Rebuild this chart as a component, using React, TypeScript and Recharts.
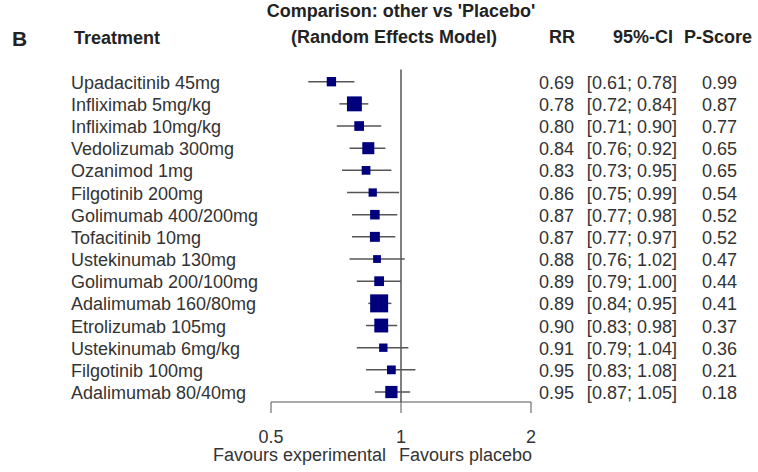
import { ScatterChart, Scatter, XAxis, YAxis, ReferenceLine, ErrorBar } from "recharts";

const treatments = [
  "Upadacitinib 45mg",
  "Infliximab 5mg/kg",
  "Infliximab 10mg/kg",
  "Vedolizumab 300mg",
  "Ozanimod 1mg",
  "Filgotinib 200mg",
  "Golimumab 400/200mg",
  "Tofacitinib 10mg",
  "Ustekinumab 130mg",
  "Golimumab 200/100mg",
  "Adalimumab 160/80mg",
  "Etrolizumab 105mg",
  "Ustekinumab 6mg/kg",
  "Filgotinib 100mg",
  "Adalimumab 80/40mg",
];
const rr = [0.69, 0.78, 0.8, 0.84, 0.83, 0.86, 0.87, 0.87, 0.88, 0.89, 0.89, 0.9, 0.91, 0.95, 0.95];
const ciLower = [0.61, 0.72, 0.71, 0.76, 0.73, 0.75, 0.77, 0.77, 0.76, 0.79, 0.84, 0.83, 0.79, 0.83, 0.87];
const ciUpper = [0.78, 0.84, 0.9, 0.92, 0.95, 0.99, 0.98, 0.97, 1.02, 1.0, 0.95, 0.98, 1.04, 1.08, 1.05];
const pScore = [0.99, 0.87, 0.77, 0.65, 0.65, 0.54, 0.52, 0.52, 0.47, 0.44, 0.41, 0.37, 0.36, 0.21, 0.18];
const xTicks = [0.5, 1, 2];

const FONT = "'Liberation Sans', Arial, Helvetica, sans-serif";
const TEXT = "#333";

const rows = treatments.map((name, i) => ({
  idx: i,
  name,
  rr: rr[i],
  lo: ciLower[i],
  hi: ciUpper[i],
  err: [rr[i] - ciLower[i], ciUpper[i] - rr[i]],
}));

// square side shrinks with the width of the CI (inverse standard error)
function Square(props: any) {
  const { cx, cy } = props;
  const d = props.payload ?? props;
  const side = Math.min(18, 2.3 / Math.log(d.hi / d.lo));
  return <rect x={cx - side / 2} y={cy - side / 2} width={side} height={side} fill="#00007d" />;
}

function RowTick(props: any) {
  const { y, payload } = props;
  const i = payload.value;
  const fmt = (v: number) => v.toFixed(2);
  return (
    <g fontFamily={FONT} fontSize={18} fill={TEXT}>
      <text x={71} y={y + 7}>{treatments[i]}</text>
      <text x={574} y={y + 7} textAnchor="end">{fmt(rr[i])}</text>
      <text x={677} y={y + 7} textAnchor="end">
        [{fmt(ciLower[i])}; {fmt(ciUpper[i])}]
      </text>
      <text x={737} y={y + 7} textAnchor="end">{fmt(pScore[i])}</text>
    </g>
  );
}

export default function App() {
  return (
    <div>
      <style>{"body{margin:0}"}</style>
      <ScatterChart
        width={758}
        height={472}
        margin={{ top: 69.5, right: 227, bottom: 20, left: 71 }}
        style={{ background: "#fff" }}
      >
        <XAxis
          dataKey="rr"
          type="number"
          scale="log"
          domain={[0.5, 2]}
          ticks={xTicks}
          allowDataOverflow
          height={50}
          tickSize={11}
          tickMargin={17}
          tickFormatter={(v: number) => String(v)}
          stroke="#555"
          tick={{ fontSize: 18, fill: TEXT, fontFamily: FONT }}
        />
        <YAxis
          dataKey="idx"
          type="number"
          domain={[-0.55, 14.45]}
          reversed
          ticks={treatments.map((_, i) => i)}
          interval={0}
          width={200}
          axisLine={false}
          tickLine={false}
          tick={<RowTick />}
        />
        <ReferenceLine x={1} stroke="#555" strokeWidth={1.5} />
        <Scatter data={rows} shape={<Square />} isAnimationActive={false}>
          <ErrorBar dataKey="err" direction="x" width={0} stroke="#555" strokeWidth={1.5} />
        </Scatter>
        <g fontFamily={FONT} fill="#222" fontWeight="bold" fontSize={18}>
          <text x={12} y={46} fontSize={21}>B</text>
          <text x={74} y={44}>Treatment</text>
          <text x={401} y={17} textAnchor="middle">Comparison: other vs 'Placebo'</text>
          <text x={394} y={43} textAnchor="middle">(Random Effects Model)</text>
          <text x={575} y={43} textAnchor="end">RR</text>
          <text x={673} y={43} textAnchor="end">95%-CI</text>
          <text x={752} y={43} textAnchor="end">P-Score</text>
        </g>
        <g fontFamily={FONT} fill={TEXT} fontSize={18}>
          <text x={386} y={461} textAnchor="end">Favours experimental</text>
          <text x={399} y={461}>Favours placebo</text>
        </g>
      </ScatterChart>
    </div>
  );
}
